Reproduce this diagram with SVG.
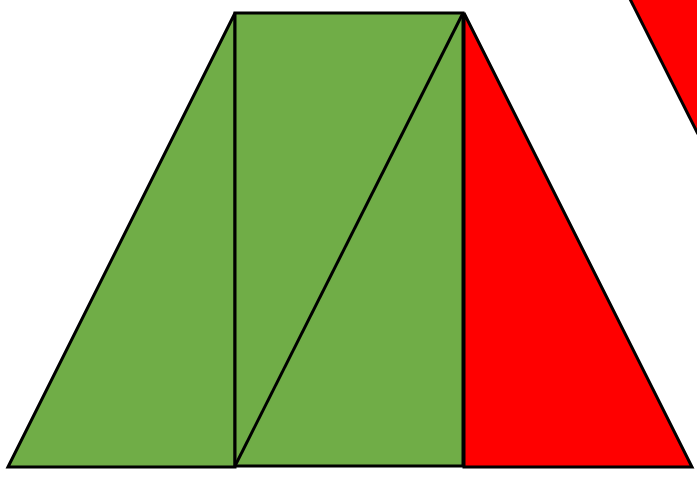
<svg xmlns="http://www.w3.org/2000/svg" width="697" height="477" viewBox="0 0 697 477">
<style>
.g{fill:#70AD47;stroke:#000;stroke-width:3;stroke-linejoin:miter}
.r{fill:#FF0000;stroke:#000;stroke-width:3;stroke-linejoin:miter}
.l{fill:none;stroke:#000;stroke-width:3}
</style>
<rect width="697" height="477" fill="#fff"/>
<g id="left-triangle"><polygon class="g" points="8,467 235,13 235,467"/></g>
<g id="rectangle"><polygon class="g" points="235,13 463,13 463,466 235,466"/></g>
<g id="red-triangle"><polygon class="r" points="464,13 692,467 464,467"/></g>
<g id="red-corner"><polygon fill="#FF0000" points="630,-1 698,-1 698,134"/><line class="l" x1="630" y1="-1" x2="698" y2="134"/></g>
<g id="connectors"><line class="l" x1="235" y1="466" x2="463" y2="13"/></g>
</svg>
